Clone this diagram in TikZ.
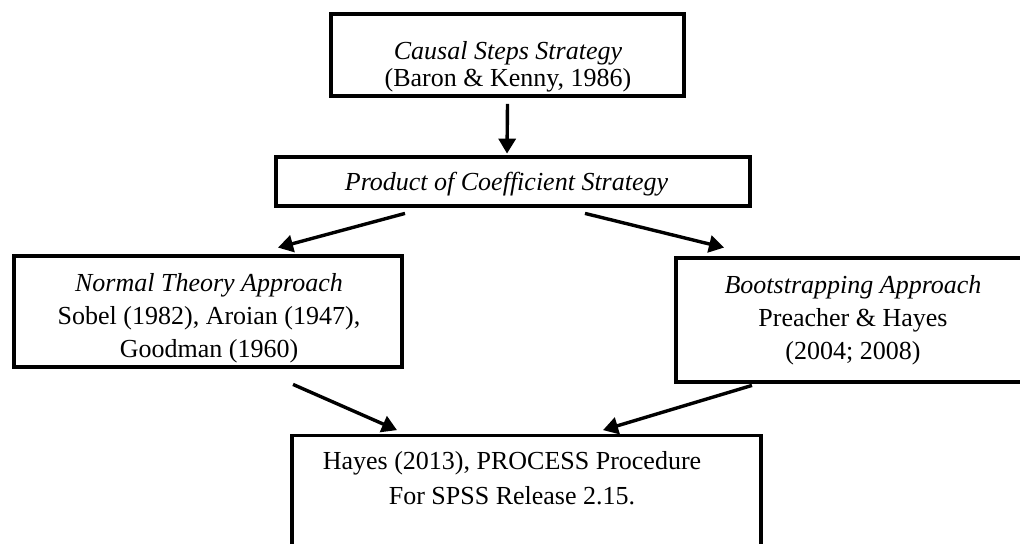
\documentclass[tikz,border=0pt]{standalone}
\usepackage{fontspec}
\setmainfont{Liberation Serif}
\usetikzlibrary{arrows.meta,calc}
\tikzset{
  box/.style={draw=black, line width=1.9pt, fill=white, inner sep=0pt},
  label/.style={align=center, inner sep=0pt,
    font=\fontsize{13}{16.5}\selectfont},
  arr/.style={line width=1.7pt, -{Triangle[length=7.5pt,width=8.5pt]}}
}
\begin{document}
\begin{tikzpicture}[x=0.5pt, y=-0.5pt]
  \useasboundingbox (0,0) rectangle (1020,543);
  \clip (0,0) rectangle (1020,543);
  \fill[white] (0,0) rectangle (1020,543);

  % boxes
  \node[box, minimum width=176.5pt, minimum height=41pt] (caus) at (507.5,55) {};
  \node[box, minimum width=237pt, minimum height=24.5pt] (prod) at (513,181.5) {};
  \node[box, minimum width=194pt, minimum height=55.5pt] (norm) at (208,311.5) {};
  \node[box, minimum width=177pt, minimum height=62pt] (boot) at (853,320) {};
  \node[box, minimum width=234.5pt, minimum height=63pt] (hayes) at (526.5,498.5) {};

  % texts
  \node[label, font=\fontsize{13}{13.5}\selectfont] (causT) at (508,67)
    {\textit{Causal Steps Strategy}\\(Baron \& Kenny, 1986)};
  \node[label] (prodT) at (506.5,184) {\textit{Product of Coefficient Strategy}};
  \node[label] (normT) at (209,318)
    {\textit{Normal Theory Approach}\\Sobel (1982), Aroian (1947),\\Goodman (1960)};
  \node[label] (bootT) at (853,320.5)
    {\textit{Bootstrapping Approach}\\Preacher \& Hayes\\(2004; 2008)};
  \node[label, font=\fontsize{13}{17.5}\selectfont] (hayesT) at (512,478.5)
    {Hayes (2013), PROCESS Procedure\\For SPSS Release 2.15.};

  % connectors
  \draw[arr] ($(caus.south)+(0,6)$) -- ($(prod.north)+(-6,-1.5)$);
  \draw[arr] ($(prod.south)+(-108,5.5)$) -- ($(norm.north)+(70,-6.5)$);
  \draw[arr] ($(prod.south)+(72,5.5)$) -- ($(boot.north)+(-129,-8.5)$);
  \draw[arr] ($(norm.south)+(85,15.5)$) -- ($(hayes.north)+(-129.5,-3.5)$);
  \draw[arr] ($(boot.south)+(-101,1.5)$) -- ($(hayes.north)+(76.5,-3.5)$);
\end{tikzpicture}
\end{document}
